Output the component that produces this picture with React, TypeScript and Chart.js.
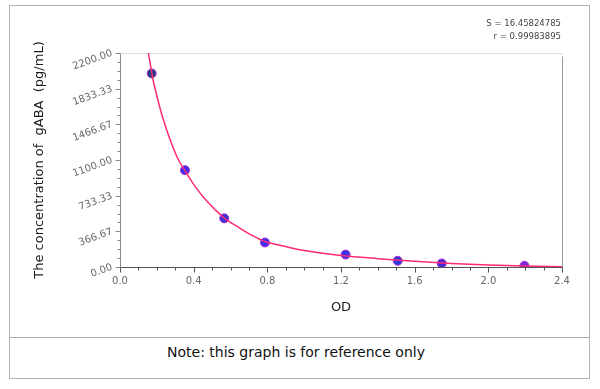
import React, { useEffect, useRef } from "react";
import { Chart, registerables } from "chart.js";

Chart.register(...registerables);

// Standard points (OD vs concentration, pg/mL)
const standardOD = [0.172, 0.353, 0.566, 0.787, 1.225, 1.508, 1.747, 2.196];
const standardConc = [1990, 995, 500, 252, 128, 64, 36, 12];
const pointColors = ["#1c3f86", "#3a2cf0", "#2f35d8", "#3b2ef0", "#3a34e8", "#2f3cdc", "#4a2ad8", "#7a2ad8"];

// Fitted curve
const curveOD = [0.154, 0.165, 0.18, 0.2, 0.225, 0.25, 0.28, 0.315, 0.353, 0.4, 0.47, 0.565, 0.65, 0.72, 0.787, 0.9, 1.0, 1.2, 1.4, 1.6, 1.8, 2.0, 2.2, 2.4];
const curveConc = [2200, 2080, 1920, 1760, 1580, 1430, 1270, 1110, 990, 850, 680, 505, 400, 322, 262, 210, 170, 118, 86, 60, 37, 20, 9, 3];

// Axes
const xMin = 0;
const xMax = 2.4;
const xMinorStep = 0.1;
const xTickLabels = ["0.0", "0.4", "0.8", "1.2", "1.6", "2.0", "2.4"];
const yMin = 0;
const yMax = 2200;
const yTickLabels = ["0.00", "366.67", "733.33", "1100.00", "1466.67", "1833.33", "2200.00"];
const minorPerMajor = 4;

const xTitle = "OD";
const yTitle = "The concentration of  gABA  (pg/mL)";
const statS = "S = 16.45824785";
const statR = "r = 0.99983895";
const note = "Note: this graph is for reference only";

const FONT = "'DejaVu Sans', Verdana, sans-serif";

const frameAndTicks = {
  id: "frameAndTicks",
  beforeDatasetsDraw(chart: any) {
    const { ctx, chartArea: a, scales } = chart;
    const xs = scales.x;
    const ys = scales.y;
    ctx.save();
    ctx.lineWidth = 1;
    const line = (x1: number, y1: number, x2: number, y2: number, c: string) => {
      ctx.strokeStyle = c;
      ctx.beginPath();
      ctx.moveTo(x1, y1);
      ctx.lineTo(x2, y2);
      ctx.stroke();
    };
    const L = Math.round(a.left) + 0.5;
    const R = Math.round(a.right) + 0.5;
    const T = Math.round(a.top) + 0.5;
    const B = Math.round(a.bottom) + 0.5;
    line(L, T, R, T, "#dedede");
    line(R, T + 3, R, B, "#9c9c9c");
    line(L, T, L, B, "#8c8c8c");
    line(L, B, R, B, "#555555");
    xs.ticks.forEach((t: any, i: number) => {
      const px = Math.round(xs.getPixelForValue(t.value)) + 0.5;
      const len = i % minorPerMajor === 0 ? 5 : 3;
      line(px, B, px, B + len, "#555555");
    });
    ys.ticks.forEach((t: any, i: number) => {
      const py = Math.round(ys.getPixelForValue(t.value)) + 0.5;
      const len = i % minorPerMajor === 0 ? 5 : 3;
      line(L - len, py, L, py, "#8c8c8c");
    });
    ctx.restore();
  },
};

export default function App() {
  const ref = useRef<HTMLCanvasElement | null>(null);

  useEffect(() => {
    if (!ref.current) return;
    const chart = new Chart(ref.current, {
      type: "scatter",
      data: {
        datasets: [
          {
            label: "curve",
            data: curveOD.map((x, i) => ({ x, y: curveConc[i] })),
            showLine: true,
            borderColor: "#ff2a72",
            borderWidth: 1.5,
            pointRadius: 0,
            cubicInterpolationMode: "monotone",
            fill: false,
          } as any,
          {
            label: "standards",
            data: standardOD.map((x, i) => ({ x, y: standardConc[i] })),
            showLine: false,
            pointRadius: 4.5,
            pointBackgroundColor: pointColors,
            pointBorderColor: "#b02ad0",
            pointBorderWidth: 1,
          } as any,
        ],
      },
      options: {
        responsive: false,
        animation: false,
        devicePixelRatio: 1,
        layout: { padding: { top: 53, right: 38, left: 0, bottom: 0 } },
        plugins: {
          legend: { display: false },
          tooltip: { enabled: false },
          title: { display: false },
        },
        scales: {
          x: {
            type: "linear",
            min: xMin,
            max: xMax,
            afterBuildTicks: (s: any) => {
              const n = Math.round((xMax - xMin) / xMinorStep);
              const arr = [];
              for (let i = 0; i <= n; i++) arr.push({ value: xMin + i * xMinorStep });
              s.ticks = arr;
            },
            afterFit: (s: any) => {
              s.height = 69;
            },
            grid: { display: false, drawTicks: false },
            border: { display: false },
            ticks: {
              autoSkip: false,
              minRotation: 0,
              maxRotation: 0,
              padding: 8,
              color: "#666",
              font: { family: FONT, size: 10 },
              callback: (_v: any, i: number) => (i % minorPerMajor === 0 ? xTickLabels[i / minorPerMajor] : ""),
            },
            title: {
              display: true,
              text: xTitle,
              color: "#222",
              font: { family: FONT, size: 13 },
              padding: { top: 0, bottom: 21 },
            },
          },
          y: {
            type: "linear",
            min: yMin,
            max: yMax,
            afterBuildTicks: (s: any) => {
              const n = (yTickLabels.length - 1) * minorPerMajor;
              const step = (yMax - yMin) / n;
              const arr = [];
              for (let i = 0; i <= n; i++) arr.push({ value: yMin + i * step });
              s.ticks = arr;
            },
            afterFit: (s: any) => {
              s.width = 120;
            },
            grid: { display: false, drawTicks: false },
            border: { display: false },
            ticks: {
              autoSkip: false,
              minRotation: 20,
              maxRotation: 20,
              padding: 8,
              color: "#666",
              font: { family: FONT, size: 10 },
              callback: (_v: any, i: number) => (i % minorPerMajor === 0 ? yTickLabels[i / minorPerMajor] : ""),
            },
            title: {
              display: true,
              text: yTitle,
              color: "#1a1a1a",
              font: { family: FONT, size: 13 },
              padding: { top: 32, bottom: 0 },
            },
          },
        },
      },
      plugins: [frameAndTicks],
    });
    return () => chart.destroy();
  }, []);

  return (
    <div style={{ position: "fixed", left: 0, top: 0, width: 600, height: 389, background: "#fff", fontFamily: FONT }}>
      <div
        style={{
          position: "absolute",
          left: 9,
          top: 5,
          width: 579,
          height: 372,
          border: "1px solid #b4b4b4",
        }}
      />
      <div style={{ position: "absolute", left: 10, top: 337, width: 579, height: 1, background: "#a8a8a8" }} />
      <canvas ref={ref} width={600} height={336} style={{ position: "absolute", left: 0, top: 0, width: 600, height: 336 }} />
      <div
        style={{
          position: "absolute",
          right: 39,
          top: 17,
          textAlign: "right",
          fontSize: 8.5,
          lineHeight: "13px",
          color: "#444",
          whiteSpace: "pre",
        }}
      >
        <div>{statS}</div>
        <div>{statR}</div>
      </div>
      <div
        style={{
          position: "absolute",
          left: 9,
          top: 343,
          width: 574,
          textAlign: "center",
          fontSize: 14,
          lineHeight: "18px",
          color: "#111",
        }}
      >
        {note}
      </div>
    </div>
  );
}
